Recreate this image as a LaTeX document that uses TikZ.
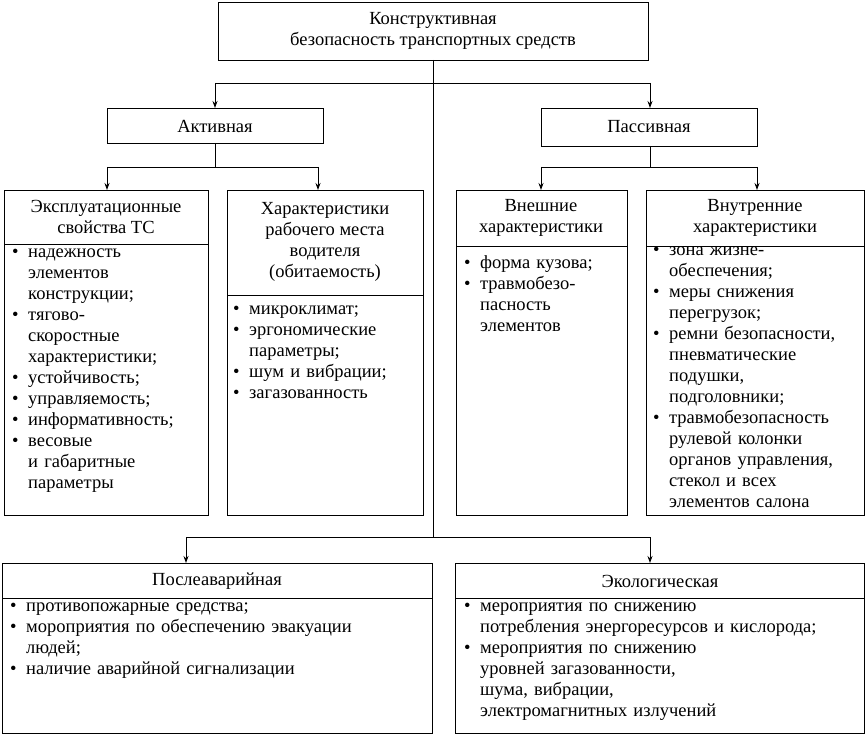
\documentclass[tikz,border=0pt]{standalone}
\usepackage{fontspec}
\setmainfont{Liberation Serif}
\usetikzlibrary{arrows.meta}
\newcommand\nl{\hfil\break}
\newcommand\itm[1]{\hangindent=16pt\hangafter=1\noindent\makebox[16pt][l]{\textbullet}#1\par}
\tikzset{
 bx/.style={draw,line width=0.9pt},
 ln/.style={line width=0.9pt},
 ar/.style={line width=0.9pt,-{Stealth[length=7pt,width=5pt]}},
 hd/.style={align=center,font=\fontsize{18.5}{21}\selectfont,inner sep=0},
 ls/.style={anchor=north west,font=\fontsize{18.5}{21}\selectfont,inner sep=0}
}
\begin{document}
\begin{tikzpicture}[x=1pt,y=-1pt]
\useasboundingbox (0,0) rectangle (867,735);
% top
\draw[bx] (218,2) rectangle (648,60);
\node[hd] (top) at (433,31) {Конструктивная\\безопасность транспортных средств};
\coordinate (t0) at (433,60);
\coordinate (tb) at (433,537);
\draw[ln] (t0) -- (tb);
\coordinate (hl) at (215,83); \coordinate (hr) at (650,83);
\draw[ln] (hl) -- (hr);
\coordinate (aT) at (215,108); \coordinate (pT) at (650,108);
\draw[ar] (hl) -- (aT);
\draw[ar] (hr) -- (pT);
\draw[bx] (107,108) rectangle (323,143);
\node[hd] (act) at (215,126) {Активная};
\draw[bx] (541,108) rectangle (757,146);
\node[hd] (pas) at (649,127) {Пассивная};
% active sub
\coordinate (a0) at (215,143); \coordinate (a1) at (215,167);
\coordinate (al) at (107,167); \coordinate (ar) at (318,167);
\draw[ln] (a0) -- (a1) (al) -- (ar);
\coordinate (b1T) at (107,190); \coordinate (b2T) at (318,190);
\draw[ar] (al) -- (b1T); \draw[ar] (ar) -- (b2T);
% passive sub
\coordinate (p0) at (650,146); \coordinate (p1) at (650,167);
\coordinate (pl) at (541,167); \coordinate (pr) at (757,167);
\draw[ln] (p0) -- (p1) (pl) -- (pr);
\coordinate (b3T) at (541,190); \coordinate (b4T) at (757,190);
\draw[ar] (pl) -- (b3T); \draw[ar] (pr) -- (b4T);
% box1
\draw[bx] (4,190) rectangle (208,515); \draw[ln] (4,244) -- (208,244);
\node[hd] (h1) at (106,217) {Эксплуатационные\\свойства ТС};
\node[ls,text width=195pt] (l1) at (12,249) {\raggedright\itm{надежность\nl элементов\nl конструкции;}\itm{тягово-\nl скоростные\nl характеристики;}\itm{устойчивость;}\itm{управляемость;}\itm{информативность;}\itm{весовые\nl и габаритные\nl параметры}};
% box2
\draw[bx] (227,190) rectangle (423,515); \draw[ln] (227,295) -- (423,295);
\node[hd] (h2) at (325,242) {Характеристики\\рабочего места\\водителя\\(обитаемость)};
\node[ls,text width=190pt] (l2) at (233,306) {\raggedright\itm{микроклимат;}\itm{эргономические\nl параметры;}\itm{шум и вибрации;}\itm{загазованность}};
% box3
\draw[bx] (456,190) rectangle (627,515); \draw[ln] (456,246) -- (627,246);
\node[hd] (h3) at (541,218) {Внешние\\характеристики};
\node[ls,text width=165pt] (l3) at (464,255) {\raggedright\itm{форма кузова;}\itm{травмобезо-\nl пасность\nl элементов}};
% box4
\draw[bx] (646,190) rectangle (864,515); \draw[ln] (646,246) -- (864,246);
\node[hd] (h4) at (755,218) {Внутренние\\характеристики};
\node[ls,text width=218pt] (l4) at (653,247) {\raggedright\itm{зона жизне-\nl обеспечения;}\itm{меры снижения\nl перегрузок;}\itm{ремни безопасности,\nl пневматические\nl подушки,\nl подголовники;}\itm{травмобезопасность\nl рулевой колонки\nl органов управления,\nl стекол и всех\nl элементов салона}};
% bottom
\coordinate (bl) at (186,537); \coordinate (br) at (650,537);
\draw[ln] (bl) -- (br);
\coordinate (b5T) at (186,563); \coordinate (b6T) at (650,563);
\draw[ar] (bl) -- (b5T); \draw[ar] (br) -- (b6T);
\draw[bx] (2,563) rectangle (432,733); \draw[ln] (2,598) -- (432,598);
\node[hd] (h5) at (217,581) {Послеаварийная};
\node[ls,text width=425pt] (l5) at (10,603) {\raggedright\itm{противопожарные средства;}\itm{мороприятия по обеспечению эвакуации\nl людей;}\itm{наличие аварийной сигнализации}};
\draw[bx] (455,563) rectangle (864,733); \draw[ln] (455,598) -- (864,598);
\node[hd] (h6) at (660,581) {Экологическая};
\node[ls,text width=405pt] (l6) at (464,603) {\raggedright\itm{мероприятия по снижению\nl потребления энергоресурсов и кислорода;}\itm{мероприятия по снижению\nl уровней загазованности,\nl шума, вибрации,\nl электромагнитных излучений}};
\end{tikzpicture}
\end{document}
